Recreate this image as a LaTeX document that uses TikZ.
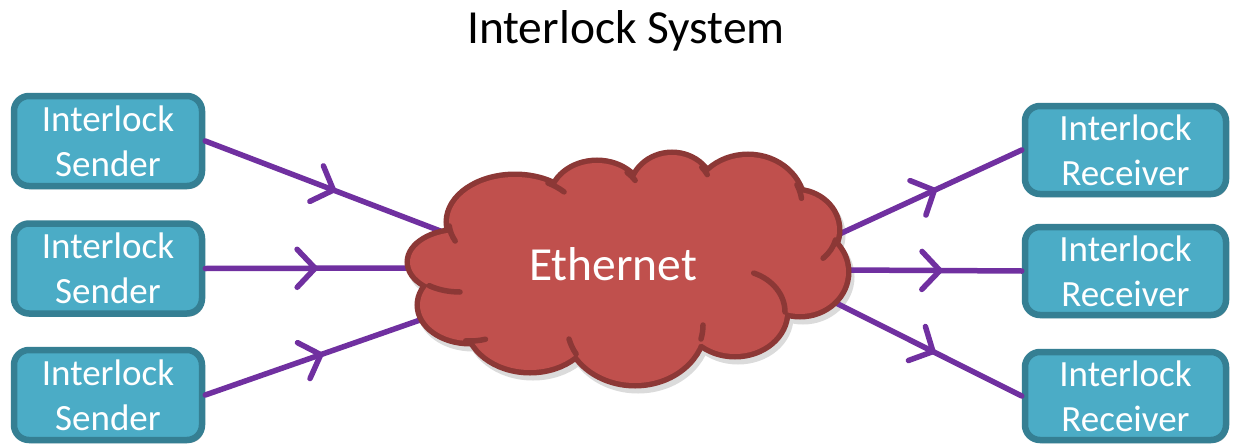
\documentclass[tikz,border=0pt]{standalone}
\usepackage{fontspec}
\setmainfont{Carlito}
\usetikzlibrary{arrows.meta,decorations.markings,shadows}
\definecolor{boxfill}{HTML}{4BACC6}
\definecolor{boxline}{HTML}{357F93}
\definecolor{cloudfill}{HTML}{C0504D}
\definecolor{cloudline}{HTML}{8C3836}
\definecolor{conncol}{HTML}{7030A0}
\tikzset{
  box/.style={draw=boxline, fill=boxfill, line width=6.5pt, rounded corners=15pt,
    minimum height=90pt, text=white, align=center, inner sep=0pt,
    font={\fontsize{37}{45}\selectfont},
    drop shadow={shadow xshift=2pt, shadow yshift=-3pt, opacity=0.25, fill=black}},
  sendbox/.style={box, minimum width=188pt},
  recvbox/.style={box, minimum width=201pt, minimum height=88pt},
  conn/.style={draw=conncol, line width=5.5pt, line cap=round,
    postaction={decorate},
    decoration={markings, mark=at position 0.55 with {\arrow{Straight Barb[length=18pt, width=38pt, line width=5.5pt, round]}}}},
  cloudedge/.style={draw=cloudline, line width=5.5pt, line cap=round},
}
\newcommand{\cloudlobes}[1]{%
  \path[#1] (515,222) ellipse [x radius=66, y radius=45];
  \path[#1] (597,200) ellipse [x radius=45, y radius=37];
  \path[#1] (672,192) ellipse [x radius=40, y radius=37];
  \path[#1] (748,205) ellipse [x radius=54, y radius=48];
  \path[#1] (795,230) ellipse [x radius=42, y radius=38];
  \path[#1] (800,272) ellipse [x radius=46, y radius=42];
  \path[#1] (735,312) ellipse [x radius=50, y radius=42];
  \path[#1] (635,325) ellipse [x radius=68, y radius=58];
  \path[#1] (530,322) ellipse [x radius=62, y radius=48];
  \path[#1] (470,305) ellipse [x radius=50, y radius=36];
  \path[#1] (460,262) ellipse [x radius=50, y radius=30];
  \path[#1] (640,265) ellipse [x radius=165, y radius=85];
}
\begin{document}
\begin{tikzpicture}[x=1pt, y=-1pt]
  \clip (0,0) rectangle (1240,447);
  \fill[white] (0,0) rectangle (1240,447);

  % title
  \node[anchor=base, font={\fontsize{47.5}{57}\selectfont}] (title) at (626,43) {Interlock System};

  % boxes
  \node[sendbox] (s1) at (108,141) {Interlock\\Sender};
  \node[sendbox] (s2) at (108,268.5) {Interlock\\Sender};
  \node[sendbox] (s3) at (108,395) {Interlock\\Sender};
  \node[recvbox] (r1) at (1125.5,150) {Interlock\\Receiver};
  \node[recvbox] (r2) at (1125.5,271) {Interlock\\Receiver};
  \node[recvbox] (r3) at (1125.5,396) {Interlock\\Receiver};

  % cloud shadow
  \begin{scope}[shift={(3,5)}]
    \cloudlobes{fill=black!14, draw=black!14, line width=11pt}
  \end{scope}

  % connector end points on the cloud edge
  \coordinate (cs1) at (443,232);
  \coordinate (cs2) at (410,268);
  \coordinate (cs3) at (420,320);
  \coordinate (cr1) at (833,237);
  \coordinate (cr2) at (846,270);
  \coordinate (cr3) at (830,300);

  % connectors
  \draw[conn] (s1.east) -- (cs1);
  \draw[conn] (s2.east) -- (cs2);
  \draw[conn] (s3.east) -- (cs3);
  \draw[conn] (cr1) -- (r1.west);
  \draw[conn] (cr2) -- (r2.west);
  \draw[conn] (cr3) -- (r3.west);

  % cloud
  \cloudlobes{draw=cloudline, line width=11pt}
  \cloudlobes{fill=cloudfill}
  % inner arcs of the cloud
  \draw[cloudedge] (515,222) ++(175:66 and 45) arc[start angle=175, end angle=155, x radius=66, y radius=45];
  \draw[cloudedge] (515,222) ++(300:66 and 45) arc[start angle=300, end angle=318, x radius=66, y radius=45];
  \draw[cloudedge] (597,200) ++(312:45 and 37) arc[start angle=312, end angle=328, x radius=45, y radius=37];
  \draw[cloudedge] (672,192) ++(318:40 and 37) arc[start angle=318, end angle=332, x radius=40, y radius=37];
  \draw[cloudedge] (748,205) ++(335:54 and 48) arc[start angle=335, end angle=352, x radius=54, y radius=48];
  \draw[cloudedge] (795,230) ++(15:42 and 38) arc[start angle=15, end angle=48, x radius=42, y radius=38];
  \draw[cloudedge] (735,312) ++(292:50 and 42) arc[start angle=292, end angle=360, x radius=50, y radius=42];
  \draw[cloudedge] (635,325) ++(0:68 and 58) arc[start angle=0, end angle=14, x radius=68, y radius=58];
  \draw[cloudedge] (635,325) ++(150:68 and 58) arc[start angle=150, end angle=166, x radius=68, y radius=58];
  \draw[cloudedge] (470,305) ++(72:50 and 36) arc[start angle=72, end angle=95, x radius=50, y radius=36];
  \draw[cloudedge] (460,262) ++(90:50 and 30) arc[start angle=90, end angle=128, x radius=50, y radius=30];

  \node[anchor=base, text=white, font={\fontsize{47.5}{57}\selectfont}] (eth) at (613,280) {Ethernet};
\end{tikzpicture}
\end{document}
